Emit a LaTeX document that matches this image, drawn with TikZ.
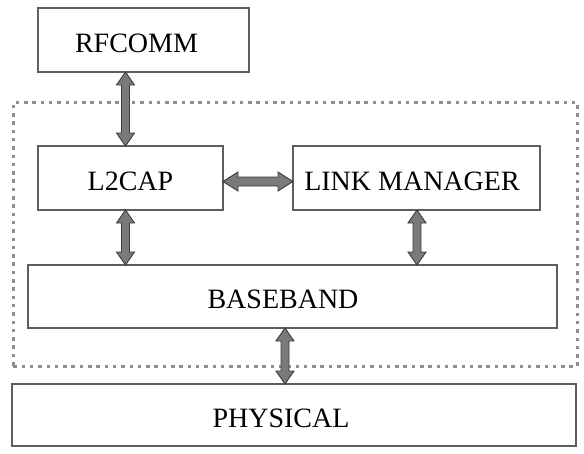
\documentclass[tikz,border=0pt]{standalone}
\usepackage{fontspec}
\setmainfont{Liberation Serif}
\usetikzlibrary{calc}
\definecolor{boxline}{HTML}{5E5E5E}
\definecolor{arrowfill}{HTML}{7A7A7A}
\definecolor{arrowline}{HTML}{3C3C3C}
\definecolor{dotline}{HTML}{8E8E8E}
\tikzset{
  layer/.style={draw=boxline, line width=1.1pt, fill=white, inner sep=0pt,
    outer sep=0pt, anchor=north west, align=center, text height=24pt, text depth=0pt,
    font=\fontsize{28}{32}\selectfont},
  % widen the text box on the right so the label sits a little left of centre
  nudge/.style={execute at end node={\hspace*{#1}}},
  fat/.style={fill=arrowfill, draw=arrowline, line width=0.9pt, line join=miter},
  group/.style={draw=dotline, line width=2.6pt, dash pattern=on 3.5pt off 4.8pt}
}
% vertical double-headed block arrow between two anchors
\newcommand\vfat[2]{%
  \draw[fat] let \p1=(#1), \p2=(#2) in
    (\x1,\y1) -- (\x1+9pt,\y1-13pt) -- (\x1+4pt,\y1-13pt) -- (\x1+4pt,\y2+13pt)
    -- (\x1+9pt,\y2+13pt) -- (\x1,\y2) -- (\x1-9pt,\y2+13pt) -- (\x1-4pt,\y2+13pt)
    -- (\x1-4pt,\y1-13pt) -- (\x1-9pt,\y1-13pt) -- cycle;}
% horizontal double-headed block arrow between two anchors
\newcommand\hfat[2]{%
  \draw[fat] let \p1=(#1), \p2=(#2) in
    (\x1,\y1) -- (\x1+15pt,\y1+9.5pt) -- (\x1+15pt,\y1+4.5pt) -- (\x2-15pt,\y1+4.5pt)
    -- (\x2-15pt,\y1+9.5pt) -- (\x2,\y1) -- (\x2-15pt,\y1-9.5pt) -- (\x2-15pt,\y1-4.5pt)
    -- (\x1+15pt,\y1-4.5pt) -- (\x1+15pt,\y1-9.5pt) -- cycle;}
\begin{document}
\begin{tikzpicture}[x=1pt,y=-1pt]
  \useasboundingbox (0,0) rectangle (584,453);
  % dotted boundary of the core stack
  \node[group, inner sep=0pt, minimum width=564pt, minimum height=264pt,
        anchor=north west] (core) at (12,101) {};
  % layers
  \node[layer, nudge=14pt, minimum width=211pt, minimum height=64pt] (rf) at (38,8) {RFCOMM};
  \node[layer, minimum width=185pt, minimum height=64pt] (l2) at (38,146) {L2CAP};
  \node[layer, nudge=9pt, minimum width=247pt, minimum height=64pt] (lm) at (293,146) {LINK MANAGER};
  \node[layer, nudge=19pt, minimum width=529pt, minimum height=63pt] (bb) at (28,265) {BASEBAND};
  \node[layer, nudge=26pt, minimum width=564pt, minimum height=62pt] (ph) at (12,384) {PHYSICAL};
  % connectors
  \coordinate (rfs) at (rf.south -| 125.5,0);
  \coordinate (l2n) at (l2.north -| 125.5,0);
  \coordinate (l2s) at (l2.south -| 125.5,0);
  \coordinate (bbl) at (bb.north -| 125.5,0);
  \coordinate (lms) at (lm.south -| 417,0);
  \coordinate (bbr) at (bb.north -| 417,0);
  \coordinate (bbs) at (bb.south -| 285,0);
  \coordinate (phn) at (ph.north -| 285,0);
  \vfat{rfs}{l2n}
  \vfat{l2s}{bbl}
  \vfat{lms}{bbr}
  \vfat{bbs}{phn}
  \coordinate (l2e) at (l2.east |- 0,181.5);
  \coordinate (lmw) at (lm.west |- 0,181.5);
  \hfat{l2e}{lmw}
\end{tikzpicture}
\end{document}
